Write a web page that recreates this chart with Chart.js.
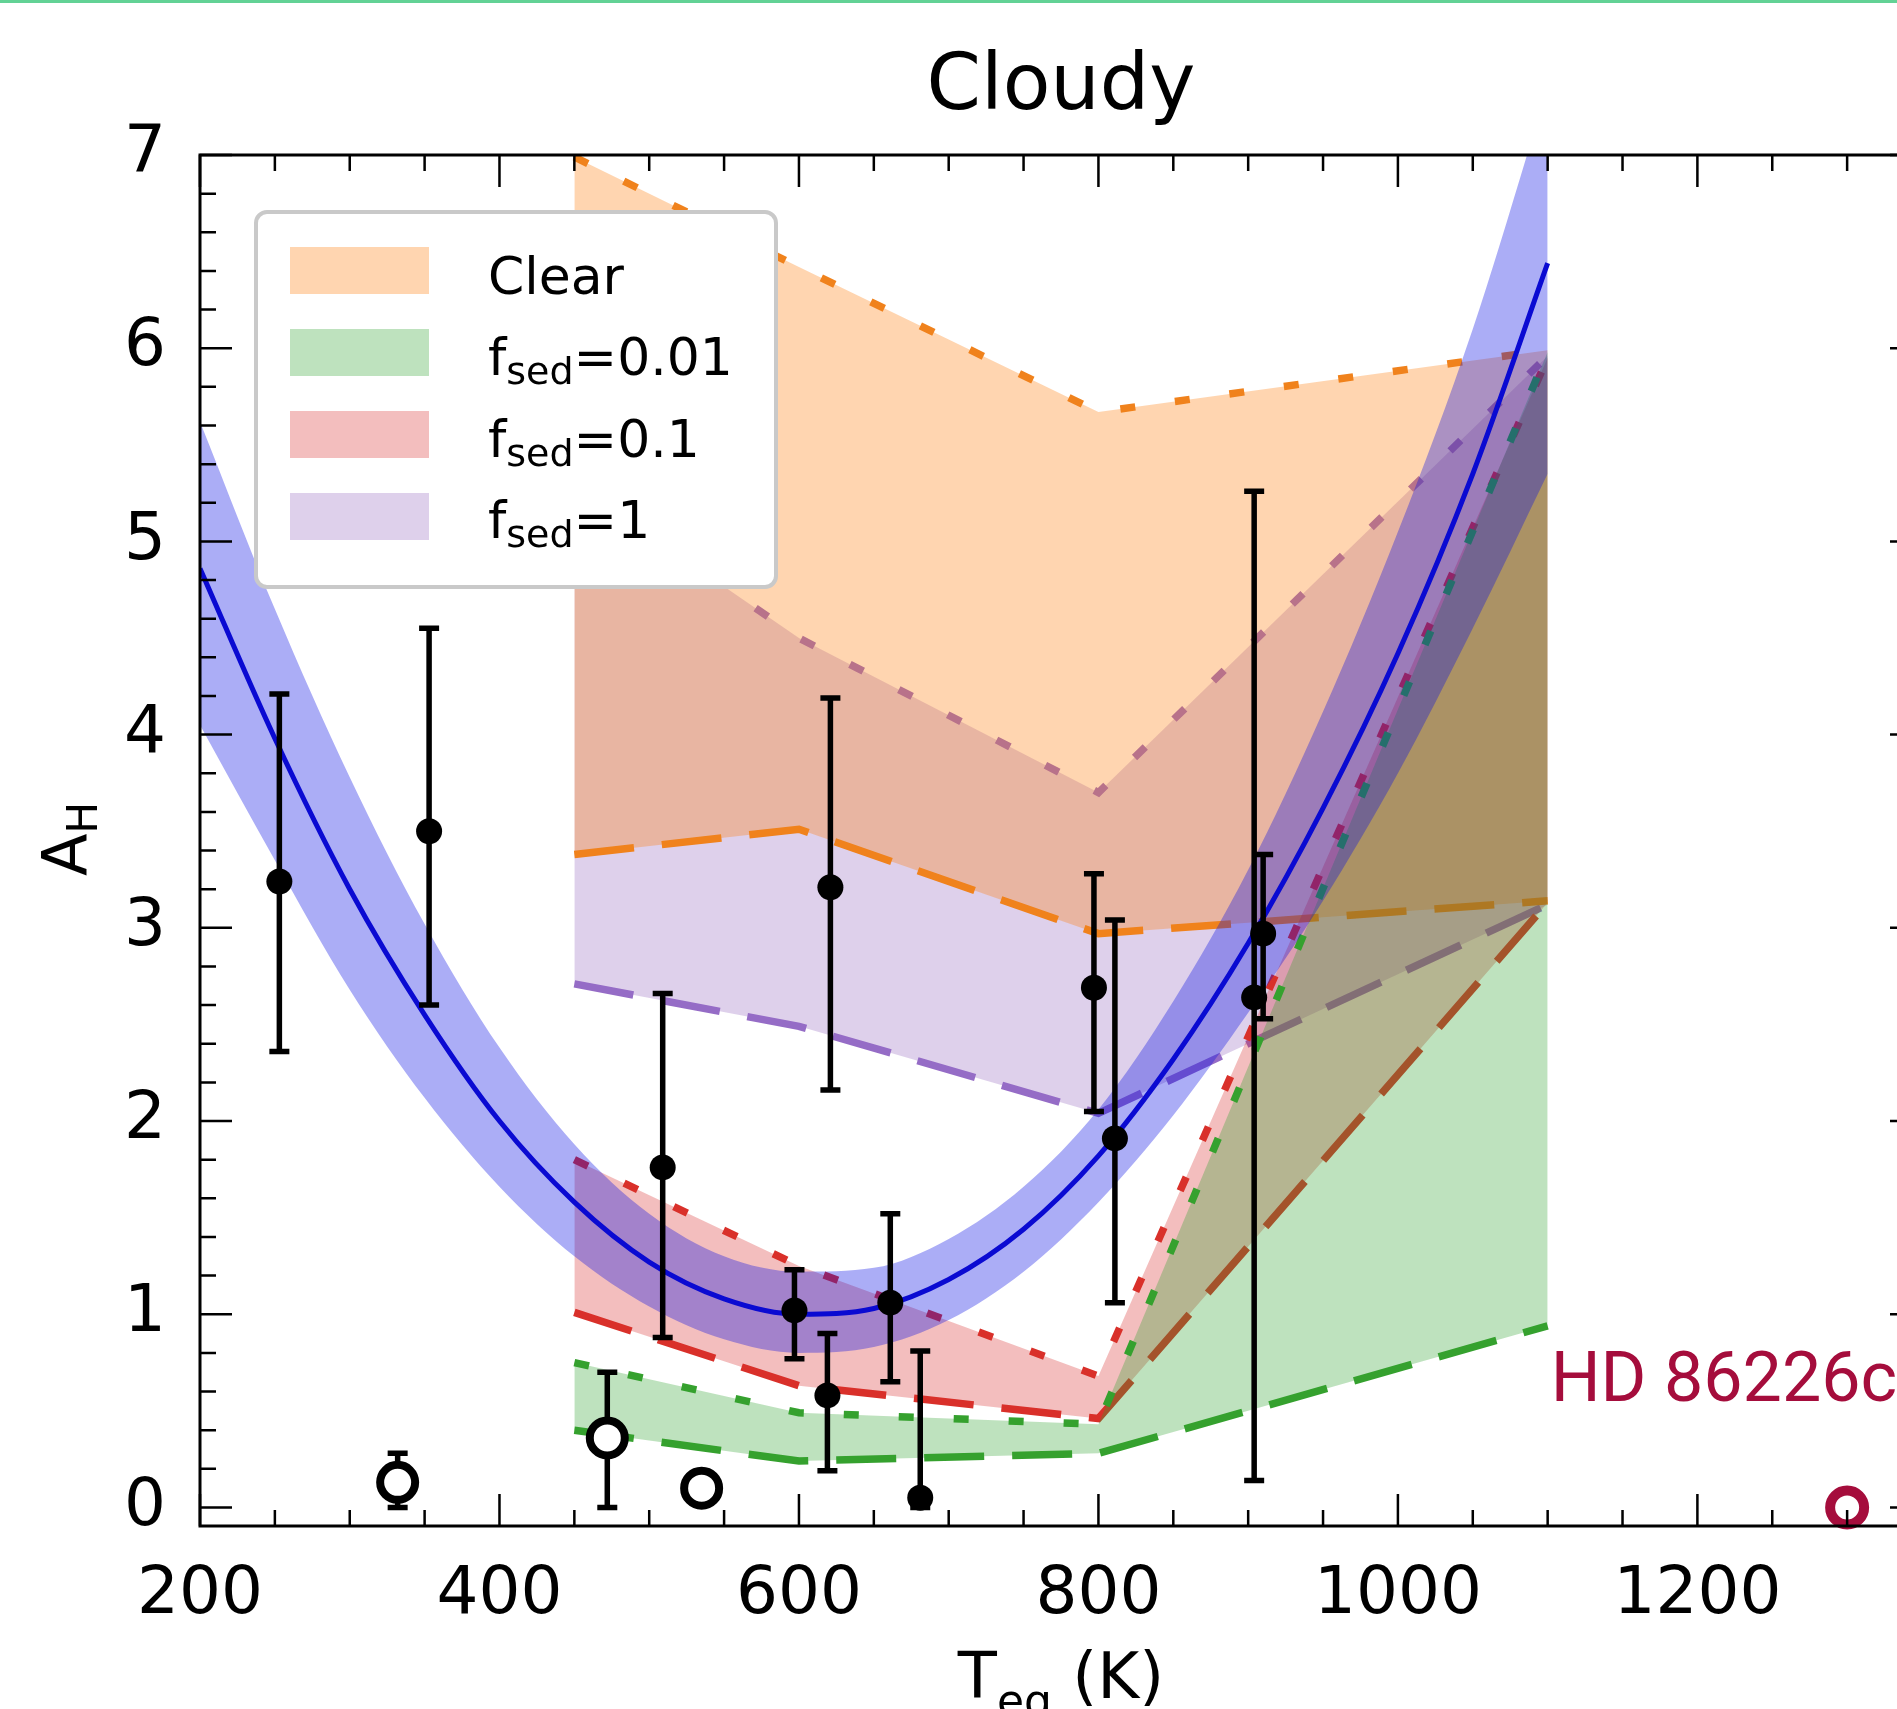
<!DOCTYPE html>
<html>
<head>
<meta charset="utf-8">
<title>Cloudy</title>
<script src="https://cdn.jsdelivr.net/npm/chart.js@4.4.1/dist/chart.umd.min.js"></script>
<style>
  html, body { margin: 0; padding: 0; background: #fff; overflow: hidden; }
  #topline { position: absolute; left: 0; top: 0; width: 100%; height: 3px; background: #62d295; z-index: 2; }
  #wrap { position: absolute; left: 0; top: 0; width: 1960px; height: 1709px; }
</style>
</head>
<body>
<div id="topline"></div>
<div id="wrap"><canvas id="chart"></canvas></div>
<script>
// model grid temperatures (K) and band edges for each cloud setting
const modelT = [450, 600, 800, 1100];
const clearUpper = [6.99, 6.42, 5.67, 5.99];
const clearLower = [3.38, 3.51, 2.97, 3.14];
const sed001Upper = [0.75, 0.49, 0.43, 5.98];
const sed001Lower = [0.40, 0.24, 0.28, 0.94];
const sed01Upper = [1.80, 1.25, 0.68, 5.95];
const sed01Lower = [1.01, 0.63, 0.46, 3.13];
const sed1Upper = [5.30, 4.50, 3.70, 5.96];
const sed1Lower = [2.71, 2.49, 2.04, 3.12];

// quadratic fit with its uncertainty band
const fitT = [200, 250, 300, 350, 400, 450, 500, 550, 600, 650, 700, 750, 800, 850, 900, 950, 1000, 1050, 1100];
const fitMid = [4.86, 3.98, 3.20, 2.55, 2.00, 1.58, 1.27, 1.08, 1.00, 1.03, 1.18, 1.44, 1.82, 2.32, 2.92, 3.62, 4.42, 5.35, 6.44];
const fitHigh = [5.62, 4.65, 3.78, 3.02, 2.38, 1.88, 1.52, 1.30, 1.22, 1.24, 1.39, 1.66, 2.06, 2.62, 3.30, 4.12, 5.05, 6.10, 7.35];
const fitLow = [4.05, 3.35, 2.68, 2.12, 1.66, 1.30, 1.04, 0.87, 0.80, 0.83, 0.97, 1.22, 1.58, 2.03, 2.56, 3.14, 3.80, 4.55, 5.35];

// measured planets (filled) and other planets (open)
const detT = [253, 353, 509, 597, 619, 621, 661, 681, 797, 811, 904, 910];
const detA = [3.24, 3.50, 1.76, 1.02, 0.58, 3.21, 1.06, 0.05, 2.69, 1.91, 2.64, 2.97];
const detHi = [4.21, 4.55, 2.66, 1.23, 0.90, 4.19, 1.52, 0.81, 3.28, 3.04, 5.26, 3.38];
const detLo = [2.36, 2.60, 0.88, 0.77, 0.19, 2.16, 0.65, 0.00, 2.05, 1.06, 0.14, 2.53];

const openT = [332, 472, 535];
const openA = [0.13, 0.36, 0.10];
const openHi = [0.28, 0.70, null];
const openLo = [0.00, 0.00, null];

const hdT = [1300];
const hdA = [0.0];

const xTicks = [200, 400, 600, 800, 1000, 1200];
const yTicks = [0, 1, 2, 3, 4, 5, 6, 7];

const FONT = "'DejaVu Sans', sans-serif";
Chart.defaults.font.family = FONT;
Chart.defaults.color = '#000';

const SHORT = [15, 40];
const LONG = [60, 28];

const C_ORANGE = '#f0821c', F_ORANGE = 'rgba(255,127,14,0.33)';
const C_GREEN = '#35a12e', F_GREEN = 'rgba(44,160,44,0.31)';
const C_RED = '#d9302a', F_RED = 'rgba(214,39,40,0.30)';
const C_PURPLE = '#956cc6', F_PURPLE = 'rgba(148,103,189,0.31)';
const F_BLUE = 'rgba(10,15,230,0.34)';

function pts(xs, ys) {
  return xs.map((x, i) => ({ x: x, y: ys[i] }));
}

function edge(data, color, dash, order, fillTarget, fillColor) {
  return {
    type: 'line',
    data: data,
    borderColor: color,
    borderWidth: 7.5,
    borderDash: dash,
    pointRadius: 0,
    tension: 0,
    fill: fillTarget === undefined ? false : fillTarget,
    backgroundColor: fillColor || 'rgba(0,0,0,0)',
    order: order
  };
}

function drawErrorBars(chart) {
  const ctx = chart.ctx;
  const xs = chart.scales.x, ys = chart.scales.y;
  const cap = 10;
  ctx.save();
  ctx.strokeStyle = '#000';
  ctx.lineWidth = 5.5;
  [[detT, detHi, detLo], [openT, openHi, openLo]].forEach(([ts, his, los]) => {
    ts.forEach((t, i) => {
      if (his[i] == null) return;
      const px = xs.getPixelForValue(t);
      const top = ys.getPixelForValue(his[i]);
      const bot = ys.getPixelForValue(los[i]);
      ctx.beginPath();
      ctx.moveTo(px, top); ctx.lineTo(px, bot);
      ctx.moveTo(px - cap, top); ctx.lineTo(px + cap, top);
      ctx.moveTo(px - cap, bot); ctx.lineTo(px + cap, bot);
      ctx.stroke();
    });
  });
  ctx.restore();
}

const legendItems = [
  { main: 'Clear', sub: '', tail: '', color: F_ORANGE },
  { main: 'f', sub: 'sed', tail: '=0.01', color: F_GREEN },
  { main: 'f', sub: 'sed', tail: '=0.1', color: F_RED },
  { main: 'f', sub: 'sed', tail: '=1', color: F_PURPLE }
];

const decorations = {
  id: 'decorations',
  afterDatasetDraw(chart, args) {
    // error bars go above the bands but under the markers
    if (args.index === 3) drawErrorBars(chart);
  },
  afterDraw(chart) {
    const ctx = chart.ctx;
    const a = chart.chartArea;
    const xs = chart.scales.x, ys = chart.scales.y;
    ctx.save();

    // frame with inward ticks on all four sides
    ctx.strokeStyle = '#000';
    ctx.lineWidth = 3;
    ctx.strokeRect(a.left, a.top, a.right - a.left, a.bottom - a.top);
    ctx.lineWidth = 2.5;
    ctx.beginPath();
    for (let t = 200; t <= 1350; t += 50) {
      const px = xs.getPixelForValue(t);
      const len = t % 200 === 0 ? 32 : 16;
      ctx.moveTo(px, a.bottom); ctx.lineTo(px, a.bottom - len);
      ctx.moveTo(px, a.top); ctx.lineTo(px, a.top + len);
    }
    for (let k = 0; k <= 35; k++) {
      const py = ys.getPixelForValue(k / 5);
      const len = k % 5 === 0 ? 32 : 16;
      ctx.moveTo(a.left, py); ctx.lineTo(a.left + len, py);
      ctx.moveTo(a.right, py); ctx.lineTo(a.right - len, py);
    }
    ctx.stroke();

    // title
    ctx.fillStyle = '#000';
    ctx.textAlign = 'center';
    ctx.textBaseline = 'alphabetic';
    ctx.font = '78px ' + FONT;
    ctx.fillText('Cloudy', (a.left + a.right) / 2, 109);

    // x axis title: T_eq (K)
    ctx.textAlign = 'left';
    const big = '64px ' + FONT, small = '44px ' + FONT;
    ctx.font = big; const wT = ctx.measureText('T').width;
    const wK = ctx.measureText(' (K)').width;
    ctx.font = small; const wEq = ctx.measureText('eq').width;
    let x0 = (a.left + a.right) / 2 - (wT + wEq + wK) / 2;
    ctx.font = big; ctx.fillText('T', x0, 1698);
    ctx.font = small; ctx.fillText('eq', x0 + wT, 1716);
    ctx.font = big; ctx.fillText(' (K)', x0 + wT + wEq, 1698);

    // y axis title: A_H
    ctx.save();
    ctx.translate(87, 839);
    ctx.rotate(-Math.PI / 2);
    ctx.font = '62px ' + FONT; const wA = ctx.measureText('A').width;
    ctx.font = '42px ' + FONT; const wH = ctx.measureText('H').width;
    const s0 = -(wA + wH) / 2;
    ctx.font = '62px ' + FONT; ctx.fillText('A', s0, 0);
    ctx.font = '42px ' + FONT; ctx.fillText('H', s0 + wA, 10);
    ctx.restore();

    // planet label
    ctx.fillStyle = '#a50d3c';
    ctx.font = "70px Roboto, 'DejaVu Sans', sans-serif";
    ctx.fillText('HD 86226c', xs.getPixelForValue(1102), ys.getPixelForValue(0.55));

    // legend box
    ctx.beginPath();
    ctx.roundRect(256, 212, 520, 375, 11);
    ctx.fillStyle = '#fff';
    ctx.fill();
    ctx.lineWidth = 4;
    ctx.strokeStyle = '#c9c9c9';
    ctx.stroke();
    const rowTop = [247, 329, 411, 493];
    const rowBase = [294, 375, 457, 538];
    legendItems.forEach((it, i) => {
      ctx.fillStyle = it.color;
      ctx.fillRect(290, rowTop[i], 139, 47);
      ctx.fillStyle = '#000';
      let x = 488;
      ctx.font = '52px ' + FONT;
      ctx.fillText(it.main, x, rowBase[i]);
      x += ctx.measureText(it.main).width;
      if (it.sub) {
        ctx.font = '38px ' + FONT;
        ctx.fillText(it.sub, x, rowBase[i] + 9);
        x += ctx.measureText(it.sub).width;
        ctx.font = '52px ' + FONT;
        ctx.fillText(it.tail, x, rowBase[i]);
      }
    });
    ctx.restore();
  }
};

const datasets = [
  { // 0 measured
    type: 'scatter', data: pts(detT, detA), pointRadius: 13,
    pointBackgroundColor: '#000', pointBorderColor: '#000', pointBorderWidth: 0,
    order: 0, clip: false
  },
  { // 1 open markers
    type: 'scatter', data: pts(openT, openA), pointRadius: 17.5,
    pointBackgroundColor: '#fff', pointBorderColor: '#000', pointBorderWidth: 8,
    order: 0, clip: false
  },
  { // 2 HD 86226c
    type: 'scatter', data: pts(hdT, hdA), pointRadius: 17,
    pointBackgroundColor: '#fff', pointBorderColor: '#a50d3c', pointBorderWidth: 10,
    order: 0, clip: false
  },
  { // 3 fit line
    type: 'line', data: pts(fitT, fitMid), borderColor: '#0a0ad2', borderWidth: 5,
    pointRadius: 0, cubicInterpolationMode: 'monotone', fill: false, order: 1
  },
  { // 4 fit low
    type: 'line', data: pts(fitT, fitLow), borderColor: 'rgba(0,0,0,0)', borderWidth: 1,
    pointRadius: 0, cubicInterpolationMode: 'monotone', fill: false, order: 2
  },
  { // 5 fit high
    type: 'line', data: pts(fitT, fitHigh), borderColor: 'rgba(0,0,0,0)', borderWidth: 1,
    pointRadius: 0, cubicInterpolationMode: 'monotone', fill: 4, backgroundColor: F_BLUE, order: 2
  },
  edge(pts(modelT, sed001Lower), C_GREEN, LONG, 3),            // 6
  edge(pts(modelT, sed001Upper), C_GREEN, SHORT, 3, 6, F_GREEN), // 7
  edge(pts(modelT, sed01Lower), C_RED, LONG, 4),               // 8
  edge(pts(modelT, sed01Upper), C_RED, SHORT, 4, 8, F_RED),     // 9
  edge(pts(modelT, clearLower), C_ORANGE, LONG, 5),            // 10
  edge(pts(modelT, clearUpper), C_ORANGE, SHORT, 5, 10, F_ORANGE), // 11
  edge(pts(modelT, sed1Lower), C_PURPLE, LONG, 6),             // 12
  edge(pts(modelT, sed1Upper), C_PURPLE, SHORT, 6, 12, F_PURPLE)  // 13
];

new Chart(document.getElementById('chart'), {
  type: 'scatter',
  data: { datasets: datasets },
  options: {
    responsive: true,
    maintainAspectRatio: false,
    animation: false,
    events: [],
    layout: { padding: { top: 155, right: 38, bottom: 0, left: 0 } },
    plugins: {
      legend: { display: false },
      title: { display: false },
      tooltip: { enabled: false }
    },
    scales: {
      x: {
        type: 'linear', min: 200, max: 1350,
        grid: { display: false, drawTicks: false },
        border: { display: false },
        ticks: {
          font: { size: 66 }, color: '#000', padding: 30,
          maxRotation: 0, autoSkip: false,
          callback: (v) => String(v)
        },
        afterBuildTicks: (s) => { s.ticks = xTicks.map((v) => ({ value: v })); },
        afterFit: (s) => { s.height = 183; }
      },
      y: {
        type: 'linear', min: -0.096, max: 7,
        grid: { display: false, drawTicks: false },
        border: { display: false },
        ticks: {
          font: { size: 66 }, color: '#000', padding: 34,
          autoSkip: false,
          callback: (v) => String(v)
        },
        afterBuildTicks: (s) => { s.ticks = yTicks.map((v) => ({ value: v })); },
        afterFit: (s) => { s.width = 200; }
      }
    }
  },
  plugins: [decorations]
});
</script>
</body>
</html>
